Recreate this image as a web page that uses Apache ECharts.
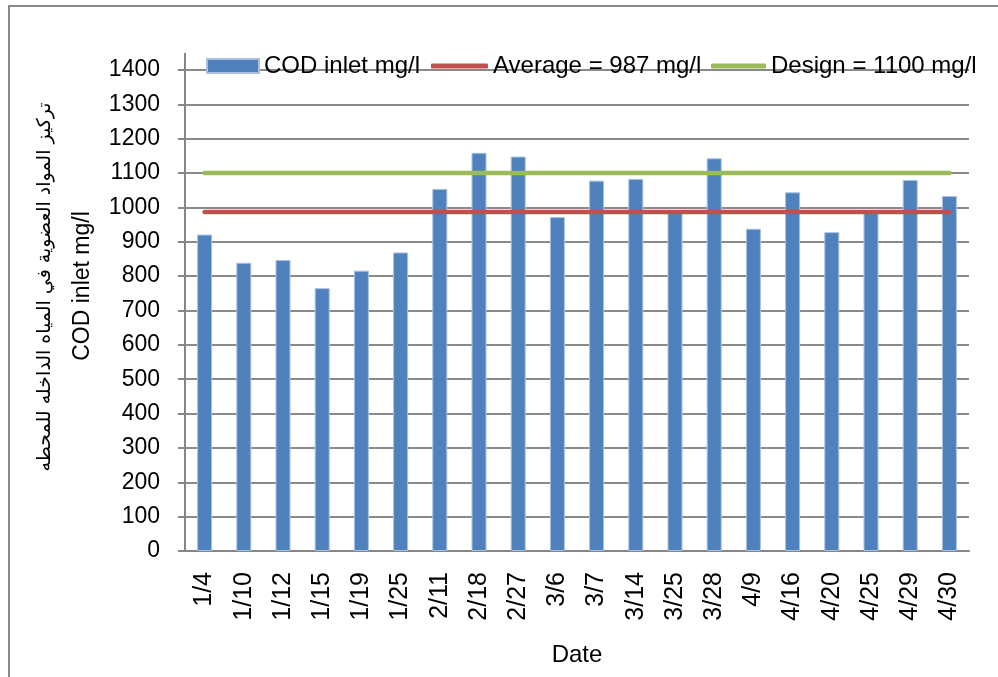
<!DOCTYPE html>
<html>
<head>
<meta charset="utf-8">
<script src="https://cdn.jsdelivr.net/npm/echarts@6/dist/echarts.min.js"></script>
<style>
html,body{margin:0;padding:0;background:#fff;}
#chart{width:998px;height:677px;}
</style>
</head>
<body>
<div id="chart"></div>
<script>
const dates = ['1/4','1/10','1/12','1/15','1/19','1/25','2/11','2/18','2/27','3/6','3/7','3/14','3/25','3/28','4/9','4/16','4/20','4/25','4/29','4/30'];
const codInlet = [921, 839, 847, 765, 816, 869, 1054, 1159, 1148, 972, 1078, 1083, 985, 1143, 938, 1044, 928, 985, 1080, 1033];
const averageValues = [987, 987, 987, 987, 987, 987, 987, 987, 987, 987, 987, 987, 987, 987, 987, 987, 987, 987, 987, 987];
const designValues = [1100, 1100, 1100, 1100, 1100, 1100, 1100, 1100, 1100, 1100, 1100, 1100, 1100, 1100, 1100, 1100, 1100, 1100, 1100, 1100];
const yTicks = [0, 100, 200, 300, 400, 500, 600, 700, 800, 900, 1000, 1100, 1200, 1300, 1400];
const seriesNames = ['COD inlet mg/l', 'Average = 987 mg/l', 'Design = 1100 mg/l'];
const yTitleAr = 'تركيز المواد العضوية في المياه الداخله للمحطه';
const yTitleEn = 'COD inlet mg/l';
const xTitle = 'Date';

const FONT = "'Liberation Sans', 'DejaVu Sans', sans-serif";
const chart = echarts.init(document.getElementById('chart'));
const legendText = {fontSize: 24, fontFamily: FONT, color: '#000'};
chart.setOption({
  animation: false,
  backgroundColor: '#fff',
  grid: {left: 185, right: 29, top: 70, bottom: 126, containLabel: false},
  legend: [
    {data: [seriesNames[0]], left: 206, top: 54, padding: 0, itemWidth: 52, itemHeight: 14, icon: 'rect', textStyle: legendText, selectedMode: false},
    {data: [seriesNames[1]], left: 431, top: 54, padding: 0, itemWidth: 57, itemHeight: 5, icon: 'roundRect', textStyle: legendText, selectedMode: false},
    {data: [seriesNames[2]], left: 711, top: 54, padding: 0, itemWidth: 55, itemHeight: 5, icon: 'roundRect', textStyle: legendText, selectedMode: false}
  ],
  xAxis: {
    type: 'category',
    data: dates,
    name: xTitle,
    nameLocation: 'middle',
    nameGap: 92,
    nameTextStyle: {fontSize: 24, fontFamily: FONT, color: '#000'},
    axisLine: {lineStyle: {color: '#868686', width: 2}},
    axisTick: {show: false},
    axisLabel: {rotate: 90, fontSize: 25, fontFamily: FONT, color: '#000', margin: 21, interval: 0}
  },
  yAxis: {
    type: 'value',
    min: yTicks[0],
    max: yTicks[yTicks.length - 1],
    interval: 100,
    axisLine: {show: true, lineStyle: {color: '#868686', width: 2}},
    axisTick: {show: true, inside: false, length: 7, lineStyle: {color: '#868686', width: 2}},
    axisLabel: {fontSize: 23, fontFamily: FONT, color: '#000', margin: 25, formatter: (v) => String(v)},
    splitLine: {show: true, lineStyle: {color: '#8a8a8a', width: 2}}
  },
  series: [
    {name: seriesNames[0], type: 'bar', data: codInlet, barWidth: 15, color: '#4F81BD',
     itemStyle: {color: '#4F81BD', borderColor: '#a9c1e0', borderWidth: 1}, z: 2},
    {name: seriesNames[1], type: 'line', data: averageValues, color: '#C0504D', symbol: 'none',
     lineStyle: {color: '#C0504D', width: 4.5, cap: 'round'}, z: 3},
    {name: seriesNames[2], type: 'line', data: designValues, color: '#9BBB59', symbol: 'none',
     lineStyle: {color: '#9BBB59', width: 4.5, cap: 'round'}, z: 3}
  ],
  graphic: [
    {type: 'rect', shape: {x: 9, y: 6, width: 1100, height: 800}, style: {fill: 'none', stroke: '#8a8a8a', lineWidth: 2}, silent: true},
    {type: 'line', shape: {x1: 185, y1: 53, x2: 185, y2: 71}, style: {stroke: '#868686', lineWidth: 2}, silent: true},
    {type: 'text', x: 45, y: 287, rotation: Math.PI / 2, silent: true,
     style: {text: yTitleAr, font: "19px 'DejaVu Sans', sans-serif", fill: '#000', align: 'center', verticalAlign: 'middle'}},
    {type: 'text', x: 83, y: 286, rotation: Math.PI / 2, silent: true,
     style: {text: yTitleEn, font: "23px " + FONT, fill: '#000', align: 'center', verticalAlign: 'middle'}}
  ]
});
</script>
</body>
</html>
